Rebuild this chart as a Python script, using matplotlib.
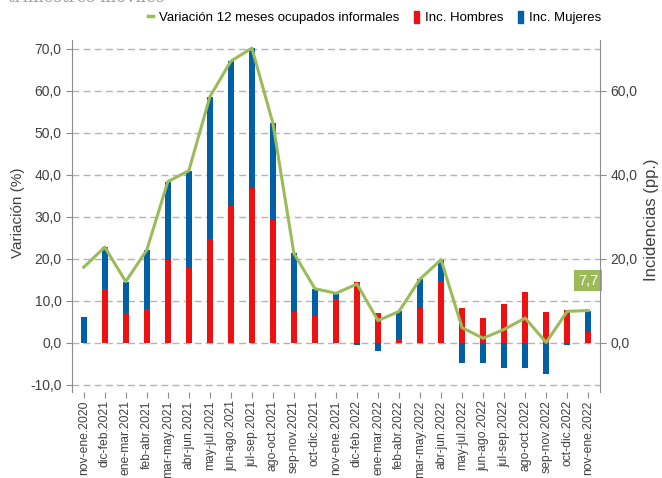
import matplotlib.pyplot as plt
from matplotlib.lines import Line2D
from matplotlib.patches import Patch

plt.rcParams['font.family'] = ['Liberation Sans', 'DejaVu Sans']

periods = ['nov-ene.2020', 'dic-feb.2021', 'ene-mar.2021', 'feb-abr.2021', 'mar-may.2021',
           'abr-jun.2021', 'may-jul.2021', 'jun-ago.2021', 'jul-sep.2021', 'ago-oct.2021',
           'sep-nov.2021', 'oct-dic.2021', 'nov-ene.2021', 'dic-feb.2022', 'ene-mar.2022',
           'feb-abr.2022', 'mar-may.2022', 'abr-jun.2022', 'may-jul.2022', 'jun-ago.2022',
           'jul-sep.2022', 'ago-oct.2022', 'sep-nov.2022', 'oct-dic.2022', 'nov-ene.2022']
hombres = [0.0, 12.8, 7.2, 8.1, 19.8, 17.9, 24.8, 32.7, 36.8, 29.2, 7.3, 6.5, 10.4,
           14.5, 7.0, 1.0, 8.4, 14.8, 8.3, 5.8, 9.3, 12.0, 7.3, 7.9, 2.7]
mujeres = [6.1, 10.0, 7.4, 14.0, 18.6, 23.1, 33.8, 34.4, 33.4, 23.1, 14.0, 6.4, 1.3,
           -0.6, -1.9, 6.5, 6.8, 5.0, -4.7, -4.7, -6.1, -5.9, -7.4, -0.5, 5.0]
variacion = [18.0, 22.8, 14.6, 22.1, 38.4, 41.0, 58.6, 67.1, 70.2, 52.3, 21.3, 12.9, 11.8,
             14.0, 5.3, 7.5, 15.2, 19.8, 3.6, 1.1, 3.2, 5.9, 0.1, 7.5, 7.7]

green = '#9BBB59'
red = '#EE1111'
blue = '#0060A6'
grey = '#8C8C8C'
txt = '#404040'

fig = plt.figure(figsize=(6.62, 4.78), dpi=100)
ax = fig.add_axes([0.109, 0.180, 0.797, 0.736])
ax2 = ax.twinx()

x = list(range(len(periods)))
bottoms = [h if m >= 0 else 0 for h, m in zip(hombres, mujeres)]
ax.bar(x, hombres, width=0.29, color=red, zorder=2)
ax.bar(x, mujeres, width=0.29, bottom=bottoms, color=blue, zorder=2)
ax.plot(x, variacion, color=green, lw=2.2, zorder=3)

ylo, yhi = -11.7, 72.1
ax.set_ylim(ylo, yhi)
ax2.set_ylim(ylo, yhi)
ax.set_xlim(-0.55, len(periods) - 0.45)

ax.set_yticks(range(-10, 80, 10))
ax.set_yticklabels([f'{v:.1f}'.replace('.', ',') for v in range(-10, 80, 10)])
ax2.set_yticks([0, 20, 40, 60])
ax2.set_yticklabels([f'{v:.1f}'.replace('.', ',') for v in [0, 20, 40, 60]])
ax.set_xticks(x)
ax.set_xticklabels(periods, rotation=90)

ax.yaxis.grid(True, linestyle=(0, (5, 3)), color='#B4B4B4', lw=1)
ax.set_axisbelow(True)

for a in (ax, ax2):
    for s in ('top', 'bottom'):
        a.spines[s].set_visible(False)
    a.spines['left'].set_color(grey)
    a.spines['right'].set_color(grey)
    a.tick_params(colors=grey, labelcolor=txt, labelsize=10, length=4)
ax.tick_params(axis='x', labelsize=8.7, pad=2)
ax.spines['right'].set_visible(False)
ax2.spines['left'].set_visible(False)

ax.set_ylabel('Variación (%)', color=txt, fontsize=11)
ax2.set_ylabel('Incidencias (pp.)', color=txt, fontsize=12)
ax.yaxis.set_label_coords(-0.102, 0.51)
ax2.yaxis.set_label_coords(1.0985, 0.49)
ax.yaxis.label.set_va('center')
ax2.yaxis.label.set_va('center')

ax.text(x[-1], 14.8, '7,7', color='white', fontsize=10.5, ha='center', va='center',
        zorder=5, bbox=dict(boxstyle='square,pad=0.25', fc=green, ec='none'))

handles = [Line2D([], [], color=green, lw=2.5),
           Patch(color=red), Patch(color=blue)]
fig.legend(handles, ['Variación 12 meses ocupados informales', 'Inc. Hombres', 'Inc. Mujeres'],
           loc='center', bbox_to_anchor=(0.566, 0.963), ncol=3, frameon=False,
           handlelength=0.4, handleheight=1.0, handletextpad=0.45, columnspacing=1.1,
           fontsize=9.5)

fig.text(0.012, 1.005, 'trimestres móviles', family='DejaVu Serif', color='#A0A0A0',
         fontsize=12, va='center')

fig.savefig('out.png', dpi=100)
